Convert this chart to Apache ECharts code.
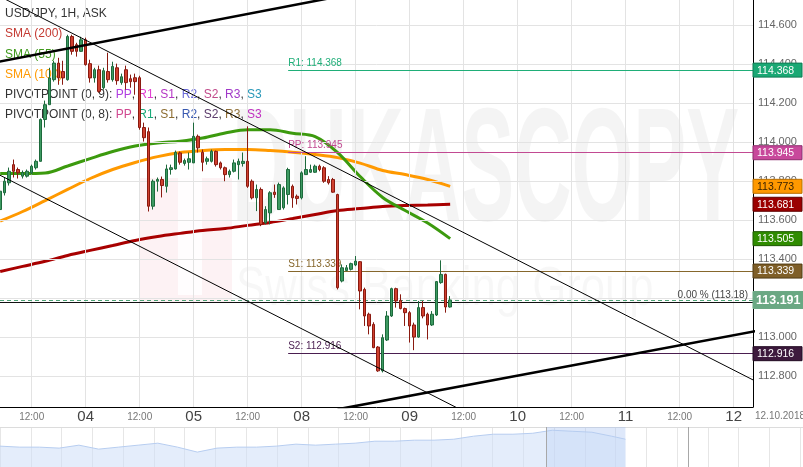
<!DOCTYPE html>
<html>
<head>
<meta charset="utf-8">
<script src="https://cdn.jsdelivr.net/npm/echarts@6.0.0/dist/echarts.min.js"></script>
<style>html,body{margin:0;padding:0;background:#fff;}#chart{width:803px;height:467px;}</style>
</head>
<body>
<div id="chart"></div>
<script>
// ---------------- data ----------------
const viewStartHour = 4.96;
const viewEndHour = 172.3;
const firstCandleHour = 5;
const opens = [113.654,113.740,113.791,113.884,113.859,113.825,113.825,113.842,113.868,113.901,114.115,114.191,114.319,114.404,114.361,114.319,114.540,114.498,114.464,114.523,114.401,114.328,114.370,114.278,114.361,114.319,114.380,114.304,114.370,114.324,114.329,114.329,114.074,114.053,113.671,113.799,113.808,113.773,113.859,113.862,113.944,113.890,113.896,113.893,114.029,113.947,113.901,113.901,113.952,113.893,113.868,113.833,113.850,113.884,113.890,113.901,113.799,113.714,113.757,113.586,113.637,113.743,113.654,113.663,113.731,113.773,113.722,113.714,113.833,113.845,113.845,113.876,113.868,113.808,113.808,113.731,113.288,113.342,113.348,113.370,113.387,113.245,113.118,113.066,112.950,112.828,112.986,113.109,113.249,113.189,113.147,113.126,113.063,113.001,113.152,113.118,113.063,113.114,113.280,113.322,113.155];
const closes = [113.748,113.799,113.850,113.850,113.842,113.844,113.850,113.876,113.901,114.115,114.191,114.328,114.404,114.328,114.328,114.540,114.464,114.464,114.523,114.396,114.328,114.370,114.259,114.365,114.319,114.387,114.314,114.334,114.304,114.309,114.309,114.074,114.022,113.671,113.799,113.808,113.777,113.862,113.868,113.947,113.896,113.905,113.914,114.029,113.970,113.896,113.914,113.952,113.884,113.868,113.833,113.850,113.893,113.901,113.901,113.773,113.714,113.757,113.578,113.654,113.740,113.731,113.782,113.765,113.859,113.714,113.711,113.842,113.859,113.859,113.876,113.859,113.799,113.791,113.743,113.254,113.356,113.356,113.377,113.390,113.237,113.109,113.058,112.947,112.828,112.998,113.109,113.249,113.186,113.147,113.126,113.058,113.001,113.152,113.109,113.063,113.118,113.285,113.322,113.155,113.191];
const lows = [113.629,113.726,113.777,113.818,113.813,113.813,113.818,113.833,113.859,113.900,114.074,114.191,114.309,114.293,114.293,114.314,114.447,114.437,114.462,114.391,114.304,114.304,114.252,114.268,114.304,114.309,114.293,114.293,114.268,114.278,114.242,114.063,114.002,113.644,113.654,113.746,113.716,113.741,113.833,113.859,113.884,113.879,113.859,113.893,113.946,113.850,113.884,113.895,113.874,113.859,113.799,113.818,113.844,113.808,113.874,113.765,113.706,113.646,113.569,113.578,113.578,113.714,113.654,113.654,113.680,113.663,113.680,113.706,113.833,113.842,113.842,113.850,113.791,113.782,113.740,113.245,113.281,113.339,113.342,113.364,113.143,113.058,113.015,112.944,112.823,112.820,112.981,113.104,113.152,113.143,113.058,112.973,112.934,112.998,113.097,112.989,113.058,113.109,113.274,113.126,113.152];
const highs = [113.767,113.818,113.869,113.910,113.869,113.854,113.859,113.884,113.910,114.120,114.212,114.380,114.416,114.431,114.416,114.549,114.549,114.508,114.539,114.534,114.421,114.380,114.391,114.380,114.457,114.411,114.401,114.350,114.391,114.345,114.350,114.339,114.099,114.074,113.808,113.818,113.823,113.884,113.884,113.956,113.951,113.915,113.946,114.099,114.038,113.961,113.925,113.961,113.956,113.900,113.874,113.859,113.910,113.915,113.946,114.080,113.808,113.782,113.767,113.671,113.748,113.782,113.792,113.773,113.868,113.782,113.731,113.850,113.927,113.884,113.884,113.884,113.876,113.825,113.816,113.735,113.373,113.370,113.382,113.416,113.390,113.254,113.126,113.077,112.955,113.015,113.134,113.254,113.254,113.220,113.152,113.134,113.075,113.186,113.186,113.126,113.134,113.288,113.394,113.326,113.211];

const smaHours = [5,10,15,20,25,30,35,40,45,50,55,60,65,70,75,80,85,90,95,100,105];
const sma55  = [113.838,113.838,113.841,113.877,113.915,113.951,113.979,113.995,114.004,114.020,114.046,114.063,114.063,114.045,114.028,113.946,113.823,113.716,113.649,113.585,113.505];
const sma100 = [113.595,113.644,113.700,113.757,113.813,113.859,113.895,113.925,113.946,113.956,113.961,113.961,113.956,113.948,113.936,113.920,113.892,113.854,113.833,113.808,113.773];
const sma200 = [113.337,113.363,113.389,113.419,113.445,113.470,113.496,113.516,113.532,113.547,113.557,113.573,113.588,113.608,113.629,113.649,113.659,113.670,113.675,113.677,113.681];

const xTickHours  = [12,24,36,48,60,72,84,96,108,120,132,144,156,168];
const xTickLabels = ['12:00','04','12:00','05','12:00','08','12:00','09','12:00','10','12:00','11','12:00','12'];
const yTickValues = [112.8,113.0,113.2,113.4,113.6,113.8,114.0,114.2,114.4,114.6];
const yMin = 112.643, yMax = 114.727;
const dateLabel = '12.10.2018';

const pivotStartHour = 69;
const pivotNames  = ['R1','PP','S1','S2'];
const pivotValues = [114.368,113.945,113.339,112.916];
const fibValue = 113.18;
const fibText = '0.00 % (113.18)';
const lastPrice = 113.191;

const trendThickUpper = [[0,114.390],[80,114.744]];
const trendThickLower = [[80,112.631],[175,113.041]];
const trendThinUpper  = [[0,114.803],[175,112.750]];
const trendThinLower  = [[0,113.888],[110,112.598]];

const tagValues = [114.368,113.945,113.773,113.681,113.505,113.339,113.191,112.916];

const navDays   = [0,1,2,3,4,5,6,7,8,9,10,11,12,13,14,15,16,17,18,19,20,21,22,23,24,25,26,27,28,29,30,31,31.7];
const navPrices = [111.47,111.30,111.30,111.14,111.63,110.97,111.30,111.63,111.96,111.30,110.48,111.14,111.30,111.30,111.47,111.80,111.63,111.80,111.96,112.29,112.29,112.46,112.46,112.62,113.12,113.45,113.45,113.61,114.11,113.94,113.78,113.12,112.62];
const navWindow = [27.7, 31.7];
const navHandle = 34.9;
const navDayMax = 40.7;
const navGridStep = 1.56;

// ---------------- styles ----------------
const FONT = "'Liberation Sans', Arial, sans-serif";
const NARROW = "'Liberation Sans Narrow', 'Arial Narrow', 'Liberation Sans', sans-serif";
const pivotColors = ['#1fae78','#c24a92','#86672c','#4a1e50'];
const tagStyles = [
  {bg:'#1aa874', border:'#0f7a52', fg:'#fff'},
  {bg:'#c8489b', border:'#8e2c6c', fg:'#fff'},
  {bg:'#ff9900', border:'#b86e00', fg:'#3a2200'},
  {bg:'#9b0000', border:'#5e0000', fg:'#fff'},
  {bg:'#2f8c00', border:'#1c5800', fg:'#fff'},
  {bg:'#7f5f28', border:'#523c14', fg:'#fff'},
  {bg:'#6aa883', border:'#6aa883', fg:'#fff', big:true},
  {bg:'#3d1a3d', border:'#220a22', fg:'#fff'}
];

const candleData = opens.map((o, i) => [firstCandleHour + i, o, closes[i], lows[i], highs[i]]);
const pairs = (hs, vs) => hs.map((h, i) => [h, vs[i]]);

const chart = echarts.init(document.getElementById('chart'), null, {renderer: 'canvas'});

const option = {
  animation: false,
  backgroundColor: '#ffffff',
  grid: [
    {left: 0, right: 50, top: 0, bottom: 60, outerBoundsMode: 'none'},
    {left: 0, right: 0, top: 427, height: 40, outerBoundsMode: 'none'}
  ],
  xAxis: [
    {
      type: 'value', gridIndex: 0, min: viewStartHour, max: viewEndHour,
      axisLine: {show: true, lineStyle: {color: '#000', width: 1}},
      axisTick: {show: false},
      splitLine: {show: false},
      axisLabel: {
        show: true, margin: 2, customValues: xTickHours,
        formatter: v => {
          const t = xTickLabels[xTickHours.indexOf(v)] || '';
          return t.indexOf(':') >= 0 ? '{t|' + t + '}' : '{d|' + t + '}';
        },
        rich: {
          t: {fontSize: 10, color: '#777', fontFamily: NARROW, lineHeight: 16},
          d: {fontSize: 15, color: '#444', fontFamily: NARROW, lineHeight: 16}
        }
      }
    },
    {
      type: 'value', gridIndex: 1, min: 0, max: navDayMax, position: 'top', interval: navGridStep,
      axisLine: {show: true, lineStyle: {color: '#dcdcdc'}},
      axisTick: {show: false}, axisLabel: {show: false},
      splitLine: {show: true, lineStyle: {color: '#e6e6e6', width: 1}}
    }
  ],
  yAxis: [
    {
      type: 'value', gridIndex: 0, position: 'right', min: yMin, max: yMax,
      axisLine: {show: true, lineStyle: {color: '#000', width: 1}},
      axisTick: {show: false},
      splitLine: {show: false},
      axisLabel: {
        show: true, margin: 5, customValues: yTickValues, color: '#666',
        fontSize: 11, fontFamily: FONT,
        formatter: v => v.toFixed(3)
      }
    },
    {
      type: 'value', gridIndex: 1, min: 108.0, max: 114.65, show: false
    }
  ],
  graphic: [
    // watermark
    {type: 'rect', z: 0, silent: true, shape: {x: 140, y: 178, width: 92, height: 125},
     style: {fill: 'rgba(220,40,60,0.06)'}},
    {type: 'rect', z: 0, silent: true, shape: {x: 178, y: 170, width: 24, height: 125},
     style: {fill: 'rgba(255,255,255,0.85)'}},
    {type: 'text', z: 0, silent: true, x: 232, y: 256, scaleX: 0.49,
     style: {text: 'DUKASCOPY', font: 'bold 162px ' + FONT, fill: 'rgba(0,0,0,0.045)', verticalAlign: 'bottom'}},
    {type: 'text', z: 0, silent: true, x: 236, y: 318, scaleX: 0.78,
     style: {text: 'Swiss Banking Group', font: '56px ' + FONT, fill: 'rgba(0,0,0,0.03)', verticalAlign: 'bottom'}},
    // legend texts
    {type: 'text', z: 1, left: 5, top: 8, style: {text: 'USD/JPY, 1H, ASK', font: '12px ' + FONT, fill: '#333'}},
    {type: 'text', z: 1, left: 5, top: 28, style: {text: 'SMA (200)', font: '12px ' + FONT, fill: '#c43a32'}},
    {type: 'text', z: 1, left: 5, top: 49, style: {text: 'SMA (55)', font: '12px ' + FONT, fill: '#3f9a1c'}},
    {type: 'text', z: 1, left: 5, top: 69, style: {text: 'SMA (100)', font: '12px ' + FONT, fill: '#ff9900'}},
    {type: 'text', z: 1, left: 5, top: 89, style: {
      text: 'PIVOTPOINT (0, 9): {a|PP}, {b|R1}, {c|S1}, {d|R2}, {e|S2}, {f|R3}, {g|S3}',
      font: '12px ' + FONT, fill: '#333',
      rich: {a: {fill: '#b03ce0'}, b: {fill: '#e040d0'}, c: {fill: '#b434c4'}, d: {fill: '#6a6ad8'},
             e: {fill: '#c04a8a'}, f: {fill: '#a038c8'}, g: {fill: '#2898b8'}}
    }},
    {type: 'text', z: 1, left: 5, top: 109, style: {
      text: 'PIVOTPOINT (0, 8): {a|PP}, {b|R1}, {c|S1}, {d|R2}, {e|S2}, {f|R3}, {g|S3}',
      font: '12px ' + FONT, fill: '#333',
      rich: {a: {fill: '#d04890'}, b: {fill: '#18a878'}, c: {fill: '#8c6c30'}, d: {fill: '#3858b0'},
             e: {fill: '#5a3a6a'}, f: {fill: '#907038'}, g: {fill: '#c030c0'}}
    }},
    {type: 'text', z: 1, left: 755, top: 411, style: {text: dateLabel, font: '10px ' + NARROW, fill: '#777'}}
  ],
  series: [
    // grid lines
    {
      type: 'line', z: 1, data: [], silent: true,
      markLine: {
        silent: true, symbol: 'none', animation: false,
        label: {show: false},
        lineStyle: {color: '#e3e3e3', width: 1, type: 'solid'},
        data: xTickHours.map(h => ({xAxis: h})).concat(yTickValues.map(v => ({yAxis: v})))
      }
    },
    // SMAs
    {type: 'line', z: 3, data: pairs(smaHours, sma200), smooth: 0.35, showSymbol: false, silent: true,
     lineStyle: {color: '#a80000', width: 3}},
    {type: 'line', z: 3, data: pairs(smaHours, sma100), smooth: 0.35, showSymbol: false, silent: true,
     lineStyle: {color: '#ff9900', width: 3}},
    {type: 'line', z: 3, data: pairs(smaHours, sma55), smooth: 0.35, showSymbol: false, silent: true,
     lineStyle: {color: '#3c9a0e', width: 3}},
    // pivot lines / fib / last price
    {
      type: 'line', z: 4, data: [], silent: true,
      markLine: {
        silent: true, symbol: 'none', animation: false,
        data: pivotValues.map((v, i) => [
          {coord: [pivotStartHour, v], lineStyle: {color: pivotColors[i], width: 1, type: 'solid'},
           label: {show: true, position: 'insideStartTop', distance: [0, 2], formatter: pivotNames[i] + ': ' + v.toFixed(3),
                   color: pivotColors[i], fontSize: 10, fontFamily: FONT}},
          {coord: [viewEndHour, v]}
        ]).concat([
          [{coord: [viewStartHour, fibValue], lineStyle: {color: '#111', width: 1, type: 'solid'},
            label: {show: true, position: 'insideEndTop', distance: [5, 2], formatter: fibText, color: '#444', fontSize: 10, fontFamily: FONT}},
           {coord: [viewEndHour, fibValue]}],
          [{coord: [viewStartHour, lastPrice], lineStyle: {color: '#4ea276', width: 1, type: [4, 3]},
            label: {show: false}},
           {coord: [viewEndHour, lastPrice]}]
        ])
      }
    },
    // candles
    {
      type: 'candlestick', z: 5, data: candleData, encode: {x: 0, y: [1, 2, 3, 4]},
      barWidth: 3, silent: true,
      itemStyle: {color: '#3d9a62', color0: '#cf402f', borderColor: '#1d6a3c', borderColor0: '#8a1a10', borderWidth: 1}
    },
    // trend lines
    {type: 'line', z: 6, data: trendThickUpper, showSymbol: false, silent: true, lineStyle: {color: '#000', width: 2.5}},
    {type: 'line', z: 6, data: trendThickLower, showSymbol: false, silent: true, lineStyle: {color: '#000', width: 2.5}},
    {type: 'line', z: 6, data: trendThinUpper, showSymbol: false, silent: true, lineStyle: {color: '#000', width: 1}},
    {type: 'line', z: 6, data: trendThinLower, showSymbol: false, silent: true, lineStyle: {color: '#000', width: 1}},
    // price tags
    {
      type: 'custom', z: 10, silent: true, clip: false,
      data: tagValues.map((v, i) => [v, i]),
      encode: {x: -1, y: -1},
      renderItem: (params, api) => {
        const v = api.value(0), i = api.value(1);
        const p = api.coord([viewEndHour, v]);
        const st = tagStyles[i];
        const h = st.big ? 17 : 14;
        return {
          type: 'group',
          children: [
            {type: 'rect', shape: {x: p[0], y: p[1] - h / 2, width: st.big ? 50 : 49, height: h},
             style: {fill: st.bg, stroke: st.border, lineWidth: 1}},
            {type: 'text', style: {text: v.toFixed(3), x: p[0] + (st.big ? 3 : 4), y: p[1] + 0.5,
              verticalAlign: 'middle', align: 'left', fill: st.fg,
              font: (st.big ? 'bold 12.5px ' : '10.5px ') + FONT}}
          ]
        };
      }
    },
    // navigator
    {
      type: 'line', xAxisIndex: 1, yAxisIndex: 1, z: 2, data: pairs(navDays, navPrices),
      showSymbol: false, silent: true,
      lineStyle: {color: '#b7cdf0', width: 1},
      areaStyle: {color: 'rgba(205,222,248,0.55)', opacity: 1},
      markArea: {silent: true, itemStyle: {color: 'rgba(160,190,240,0.35)'},
                 data: [[{xAxis: navWindow[0]}, {xAxis: navWindow[1]}]]},
      markLine: {silent: true, symbol: 'none', label: {show: false},
                 lineStyle: {color: '#a8a8a8', width: 1, type: 'solid'},
                 data: [{xAxis: navWindow[0]}, {xAxis: navHandle}]}
    }
  ]
};
chart.setOption(option);
</script>
</body>
</html>
